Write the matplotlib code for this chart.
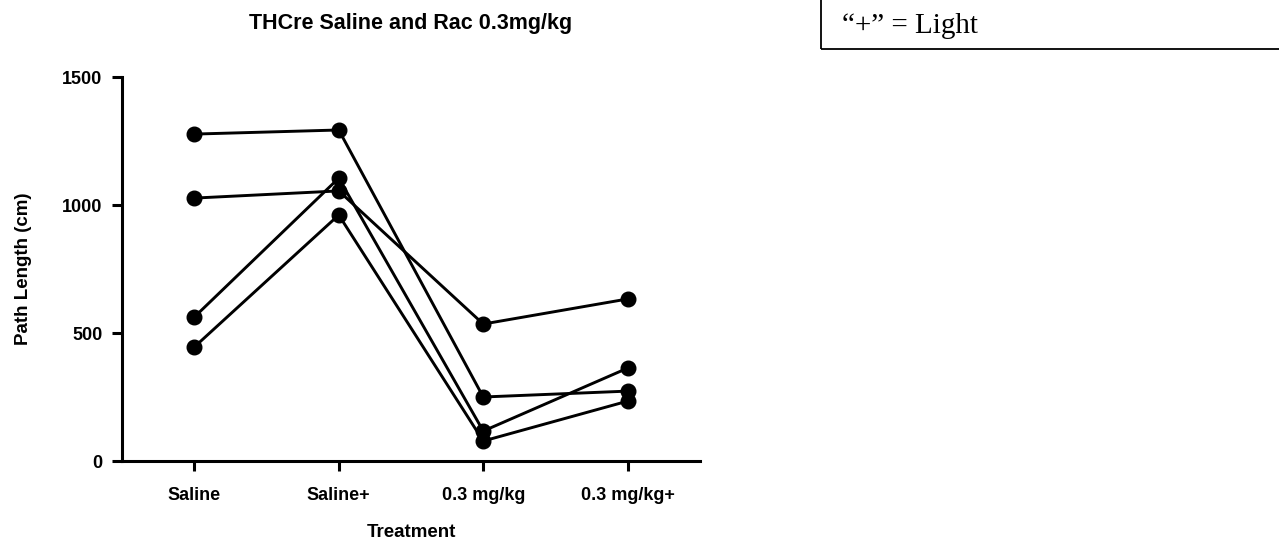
import matplotlib
matplotlib.use("Agg")
import matplotlib.pyplot as plt
from matplotlib.patches import Rectangle

# ---- data ----
categories = ["Saline", "Saline+", "0.3 mg/kg", "0.3 mg/kg+"]
subject_a = [1277, 1293, 250, 273]
subject_b = [1027, 1055, 535, 633]
subject_c = [562, 1105, 117, 363]
subject_d = [445, 961, 78, 234]
yticks = [0, 500, 1000, 1500]
title = "THCre Saline and Rac 0.3mg/kg"
xlabel = "Treatment"
ylabel = "Path Length (cm)"
note = "\u201c+\u201d = Light"

plt.rcParams['font.family'] = ['Liberation Sans', 'DejaVu Sans']
plt.rcParams['font.weight'] = 'bold'

W, H = 1279, 552
fig = plt.figure(figsize=(W / 100, H / 100), dpi=100)
ax = fig.add_axes([122 / W, 1 - 461 / H, (700 - 122) / W, (461 - 77) / H])

x = list(range(len(categories)))
for s in (subject_a, subject_b, subject_c, subject_d):
    ax.plot(x, s, color='black', lw=2.1, marker='o', markersize=10.5,
            markerfacecolor='black', markeredgecolor='black', clip_on=False)

ax.set_xlim(-0.5, 3.5)
ax.set_ylim(0, 1500)
ax.set_yticks(yticks)
ax.set_yticklabels([str(v) for v in yticks])
ax.set_xticks(x)
ax.set_xticklabels(categories)

for sp in ('top', 'right'):
    ax.spines[sp].set_visible(False)
for sp in ('left', 'bottom'):
    ax.spines[sp].set_linewidth(2.2)
ax.tick_params(axis='both', direction='out', length=7, width=2.2, labelsize=13)
ax.tick_params(axis='y', pad=7)
ax.tick_params(axis='x', pad=12)
for lbl in ax.get_xticklabels() + ax.get_yticklabels():
    lbl.set_fontweight('bold')

ax.set_xlabel(xlabel, fontsize=13.5, fontweight='bold', labelpad=14)
ax.set_ylabel(ylabel, fontsize=13.5, fontweight='bold', labelpad=22)

fig.text(411 / W, 1 - 24 / H, title, ha='center', va='center',
         fontsize=15.5, fontweight='bold')

# note box at top right
rect = Rectangle((821 / W, 1 - 49 / H), (W + 10 - 821) / W, 60 / H,
                 transform=fig.transFigure, fill=False, edgecolor='black',
                 lw=1.3, clip_on=False)
fig.patches.append(rect)
fig.text(842 / W, 1 - 33 / H, note, ha='left', va='baseline',
         fontsize=21, fontweight='normal',
         family=['Liberation Serif', 'DejaVu Serif'])

fig.savefig("out.png", dpi=100)
